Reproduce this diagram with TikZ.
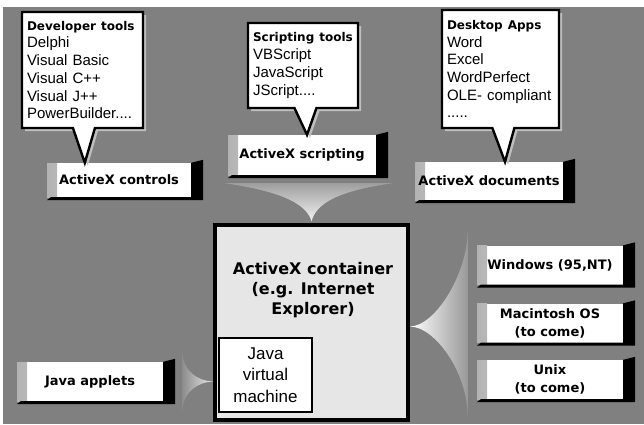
\documentclass[tikz,border=0pt]{standalone}
\usepackage{fontspec}
\setmainfont{Liberation Sans}
\newfontfamily\heavy{DejaVu Sans}
\usetikzlibrary{shapes.callouts,shadows}

\definecolor{bggray}{HTML}{808080}
\definecolor{contgray}{HTML}{E6E6E6}

\tikzset{
  bubble/.style={rectangle callout, draw, line width=2.4pt, fill=white, align=left,
    inner xsep=5pt, inner ysep=3pt, callout pointer width=22pt,
    font=\fontsize{15}{17.7}\selectfont,
    drop shadow={fill=black!25, opacity=1, shadow xshift=3pt, shadow yshift=-3pt}},
  tab/.style={fill=white, inner sep=2pt, align=center, minimum height=39pt,
    font=\heavy\bfseries\fontsize{13}{18}\selectfont,
    path picture={\shade[left color=black!30, right color=white]
      (path picture bounding box.south west) rectangle ([xshift=10pt]path picture bounding box.north west);}},
}
\newcommand{\headline}[1]{{\heavy\bfseries\fontsize{12}{12}\selectfont #1}}

% black edge at the right and at the bottom of a tab
\newcommand{\tabedge}[1]{%
  \fill (#1.north east) -- ([xshift=12pt,yshift=3pt]#1.north east)
    -- ([xshift=12pt,yshift=-3pt]#1.south east) -- ([yshift=-3pt]#1.south west)
    -- ([xshift=4pt]#1.south west) -- (#1.south east) -- cycle;}

\begin{document}
\begin{tikzpicture}[x=1pt,y=-1pt]

    \fill[white] (0,0) rectangle (644,424);
    \fill[bggray] (3,7) rectangle (644,424);
    \useasboundingbox (0,0) rectangle (644,424);

    % tabs
    \node[tab, minimum width=144pt, minimum height=34pt] (ctrl) at (119,180) {ActiveX controls};
    \node[tab, minimum width=148pt, minimum height=40pt] (scr) at (302,155) {ActiveX scripting};
    \node[tab, minimum width=148pt, minimum height=38pt] (docs) at (489,181) {ActiveX documents};
    \node[tab, minimum width=146pt] (applets) at (90,381.5) {Java applets};
    \node[tab, minimum width=146pt] (win) at (550,265) {Windows (95,NT)};
    \node[tab, minimum width=146pt] (mac) at (550,323) {Macintosh OS\\(to come)};
    \node[tab, minimum width=146pt] (unix) at (550,379.5) {Unix\\(to come)};
    \foreach \n in {ctrl,scr,docs,applets,win,mac,unix}
      \tabedge{\n};

    % container
    \node[draw, line width=3.5pt, fill=contgray, minimum width=193pt, minimum height=195pt] (cont) at (311.5,322.5) {};
    \node[font=\heavy\bfseries\fontsize{16}{20}\selectfont, align=center] (conttxt) at (313,290)
      {ActiveX container\\(e.g. Internet\\Explorer)};
    \node[draw, line width=1.8pt, fill=white, minimum width=93pt, minimum height=74pt, align=center,
      inner sep=1pt, font=\fontsize{17}{21.5}\selectfont] (jvm) at (265.5,375) {Java\\virtual\\machine};

    % funnels
    \shade[top color=black!38, bottom color=black!5]
      ([xshift=-3pt,yshift=-8pt]scr.south west) .. controls +(55pt,-8pt) and +(-5pt,18pt) ..
      ([yshift=2pt]cont.north) .. controls +(5pt,18pt) and +(-55pt,-8pt) ..
      ([xshift=16pt,yshift=-8pt]scr.south east) -- cycle;
    \shade[left color=black!45, right color=black!8]
      ([xshift=19pt,yshift=31pt]applets.east) .. controls +(0pt,-20pt) and +(-15pt,0pt) ..
      (applets.east -| cont.west) .. controls +(-15pt,0pt) and +(0pt,20pt) ..
      ([xshift=19pt,yshift=-31pt]applets.east) -- cycle;
    \shade[left color=white, right color=black!40]
      ([yshift=-4pt]cont.east) .. controls +(25pt,0pt) and +(0pt,-45pt) ..
      ([xshift=-9pt,yshift=16pt]win.north west) -- ([xshift=-9pt,yshift=-18pt]unix.south west)
      .. controls +(0pt,45pt) and +(25pt,0pt) .. ([yshift=-4pt]cont.east) -- cycle;

    % callouts
    \node[bubble, text width=111pt, minimum width=121pt, minimum height=116pt,
      callout absolute pointer={([xshift=38pt]ctrl.north west)}] (devtools) at (82.5,70)
      {\headline{Developer tools}\\Delphi\\Visual Basic\\Visual C++\\Visual J++\\PowerBuilder....};
    \node[bubble, text width=100pt, minimum width=110pt, minimum height=85pt,
      callout absolute pointer={([xshift=5pt]scr.north)}] (scrtools) at (303,65.5)
      {\headline{Scripting tools}\\VBScript\\JavaScript\\JScript....};
    \node[bubble, text width=107pt, minimum width=117pt, minimum height=118pt,
      callout absolute pointer={([xshift=16pt]docs.north)}] (apps) at (500.5,69)
      {\headline{Desktop Apps}\\Word\\Excel\\WordPerfect\\OLE- compliant\\.....};

\end{tikzpicture}
\end{document}
